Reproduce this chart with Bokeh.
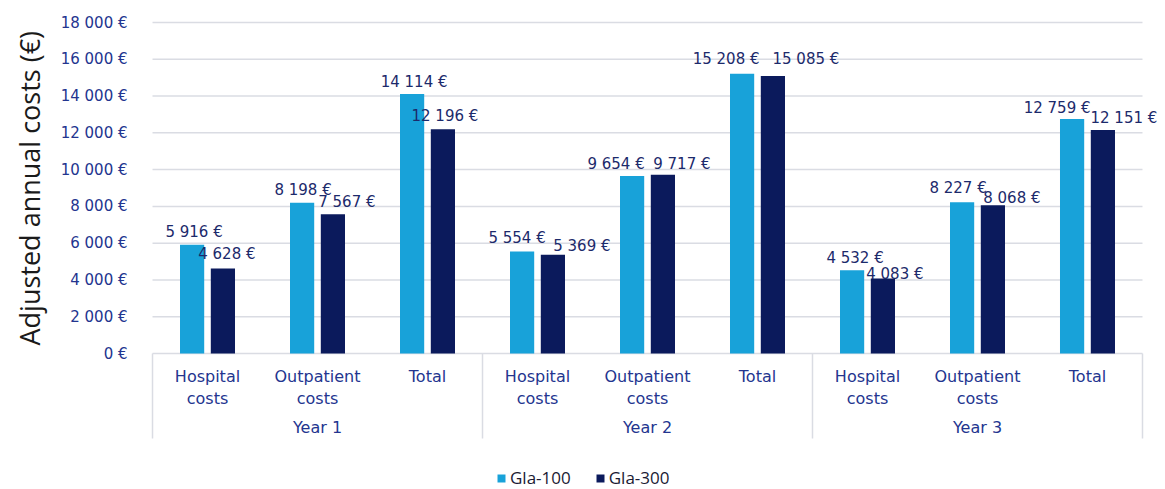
from bokeh.plotting import figure
from bokeh.models import (FactorRange, Range1d, FixedTicker, Legend, LegendItem,
                          ColumnDataSource, LabelSet, Title)
from bokeh.transform import dodge
from bokeh.core.properties import value
from bokeh.embed import file_html
from bokeh.resources import INLINE

# ---------------- data ----------------
years = ["Year 1", "Year 2", "Year 3"]
cost_types = ["Hospital\ncosts", "Outpatient\ncosts", "Total"]
gla100 = [5916, 8198, 14114, 5554, 9654, 15208, 4532, 8227, 12759]
gla300 = [4628, 7567, 12196, 5369, 9717, 15085, 4083, 8068, 12151]
y_ticks = [0, 2000, 4000, 6000, 8000, 10000, 12000, 14000, 16000, 18000]
series_names = ["Gla-100", "Gla-300"]
y_title = "Adjusted annual costs (€)"

# label placement (pixels, relative to bar top centre; positive dy = up)
dx100 = [2, 1, 2, -5, -16, -16, 3, -4, -15]
dy100 = [13, 13, 12, 13, 12, 15, 12, 14, 11]
dx300 = [4, 14, 2, 29, 19, 33, 12, 19, 21]
dy300 = [14, 12, 13, 9, 11, 17, 4, 7, 12]

def eur(v):
    return f"{v:,}".replace(",", " ") + " €"

factors = [(y, c) for y in years for c in cost_types]

LIGHT = "#18A2D9"
NAVY = "#0B1A5C"
TXT = "#23358F"
LBL = "#1C2A6B"
GRID = "#DADCE3"

src = ColumnDataSource(dict(
    x=factors, g100=gla100, g300=gla300,
    l100=[eur(v) for v in gla100], l300=[eur(v) for v in gla300],
    dx100=dx100, dy100=dy100, dx300=dx300, dy300=dy300,
))

p = figure(
    x_range=FactorRange(*factors, range_padding=0.1455, range_padding_units="absolute",
                        factor_padding=0, group_padding=0),
    y_range=Range1d(-7395, 18381),
    width=1160, height=489,
    output_backend="svg", toolbar_location=None,
    min_border_left=136, min_border_right=2, min_border_top=15, min_border_bottom=0,
    outline_line_color=None,
)

n = len(cost_types)
bounds = [i * n for i in range(len(years) + 1)]

# horizontal gridlines over the category span only
p.segment(x0=[bounds[0]] * len(y_ticks), y0=y_ticks, x1=[bounds[-1]] * len(y_ticks),
          y1=y_ticks, line_color=GRID, line_width=1.5)
# group separators
p.segment(x0=bounds, y0=[0] * len(bounds), x1=bounds, y1=[-4622] * len(bounds),
          line_color=GRID, line_width=1.5)

r1 = p.vbar(x=dodge("x", -0.14, range=p.x_range), top="g100", width=0.22,
            source=src, fill_color=LIGHT, line_color=None)
r2 = p.vbar(x=dodge("x", 0.14, range=p.x_range), top="g300", width=0.22,
            source=src, fill_color=NAVY, line_color=None)

for off, col, dxc, dyc in [(-0.14, "g100", "dx100", "dy100"), (0.14, "g300", "dx300", "dy300")]:
    p.add_layout(LabelSet(
        x=dodge("x", off, range=p.x_range), y=col, text="l" + col[1:], source=src,
        x_offset=dxc, y_offset=dyc, text_align="center", text_baseline="middle",
        text_font=value("DejaVu Sans"), text_font_size="15px", text_color=LBL))

# y axis
yax = p.yaxis[0]
yax.ticker = FixedTicker(ticks=y_ticks)
yax.major_label_overrides = {t: eur(t) for t in y_ticks}
yax.axis_line_color = None
yax.major_tick_line_color = None
yax.minor_tick_line_color = None
yax.major_label_standoff = 3
yax.major_label_text_font = "DejaVu Sans"
yax.major_label_text_font_size = "15px"
yax.major_label_text_color = TXT

t = Title(text=y_title, align="left", offset=144, standoff=16, vertical_align="top",
          text_font="Open Sans", text_font_size="27px", text_font_style="normal",
          text_color="#1A1A1A")
p.add_layout(t, "left")

p.ygrid.visible = False
p.xgrid.visible = False

# x axis at y = 0
xax = p.xaxis[0]
xax.fixed_location = 0
xax.axis_line_color = None
xax.major_tick_line_color = None
xax.minor_tick_line_color = None
xax.separator_line_color = None
xax.major_label_standoff = 7
xax.major_label_orientation = "horizontal"
xax.major_label_text_font = "DejaVu Sans"
xax.major_label_text_font_size = "16px"
xax.major_label_text_color = TXT
xax.group_text_font = "DejaVu Sans"
xax.group_text_font_size = "16px"
xax.group_text_font_style = "normal"
xax.group_text_color = TXT
xax.group_label_orientation = "horizontal"

legend = Legend(
    items=[LegendItem(label=series_names[0], renderers=[r1]),
           LegendItem(label=series_names[1], renderers=[r2])],
    orientation="horizontal", location=(360, 0),
    glyph_width=10, glyph_height=10, label_standoff=4, spacing=24,
    label_text_font="Open Sans", label_text_font_size="17px", label_text_color="#1A1A33",
    label_height=20, padding=0, margin=0, border_line_color=None,
    background_fill_alpha=0,
)
p.add_layout(legend)

open("out.html", "w").write(file_html(p, INLINE))
